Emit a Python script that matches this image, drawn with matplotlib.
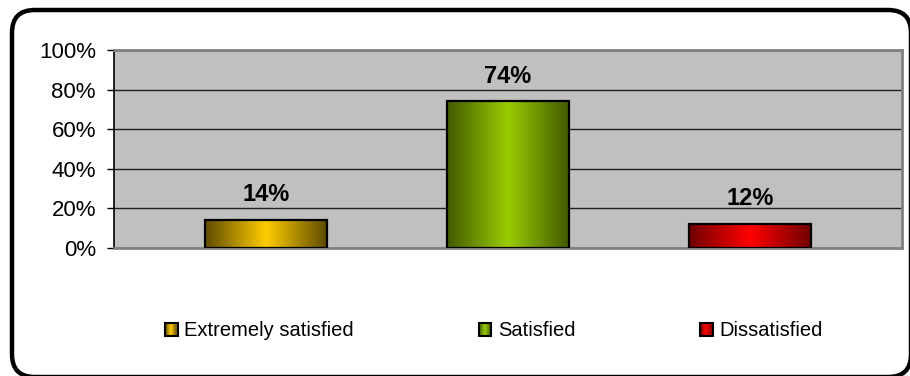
import matplotlib.pyplot as plt
import numpy as np
from matplotlib.colors import LinearSegmentedColormap
from matplotlib.patches import FancyBboxPatch, Rectangle
from matplotlib.legend_handler import HandlerBase
from matplotlib.ticker import PercentFormatter

plt.rcParams['font.family'] = ['Liberation Sans', 'DejaVu Sans']

categories = ["Extremely satisfied", "Satisfied", "Dissatisfied"]
percentages = [14, 74, 12]
bar_labels = ["14%", "74%", "12%"]

# edge / centre shades for the cylinder-like bar fill
edge_colors = ["#5e4b00", "#435a00", "#700000"]
mid_colors = ["#ffcc00", "#99cc00", "#ff0000"]


def make_cmap(edge, mid):
    return LinearSegmentedColormap.from_list("g", [edge, mid, edge])


class GradientHandler(HandlerBase):
    def __init__(self, cmap):
        super().__init__()
        self.cmap = cmap

    def create_artists(self, legend, orig_handle, xdescent, ydescent,
                       width, height, fontsize, trans):
        size = min(width, height) * 1.05
        x0 = -xdescent + (width - size) / 2
        y0 = -ydescent + (height - size) / 2
        n = 12
        artists = []
        for k in range(n):
            c = self.cmap((k + 0.5) / n)
            artists.append(Rectangle((x0 + k * size / n, y0), size / n, size,
                                     facecolor=c, edgecolor='none', transform=trans))
        artists.append(Rectangle((x0, y0), size, size, facecolor='none',
                                 edgecolor='black', linewidth=1.5, transform=trans))
        return artists


fig = plt.figure(figsize=(9.1, 3.76), dpi=100)
fig.set_facecolor('white')
ax = fig.add_axes([114 / 910, 1 - 248 / 376, 788 / 910, 198 / 376])
ax.set_facecolor('#c0c0c0')

x_pos = np.arange(len(categories))
width = 0.504
bars = ax.bar(x_pos, percentages, width=width, facecolor='none',
              edgecolor='black', linewidth=1.6, zorder=3)

cmaps = []
for b, e, m in zip(bars, edge_colors, mid_colors):
    cmap = make_cmap(e, m)
    cmaps.append(cmap)
    x0, h = b.get_x(), b.get_height()
    grad = np.linspace(0, 1, 256).reshape(1, -1)
    im = ax.imshow(grad, cmap=cmap, aspect='auto', extent=(x0, x0 + width, 0, h),
                   zorder=2, interpolation='bicubic')
    im.set_clip_path(b)

for a, v, lab in zip(x_pos, percentages, bar_labels):
    ax.annotate(lab, (a, v), xytext=(0, 10), textcoords='offset points',
                ha='center', va='bottom', fontsize=17, fontweight='bold')

ax.set_xlim(-0.628, 2.628)
ax.set_ylim(0, 100)
ax.set_yticks(np.arange(0, 101, 20))
ax.yaxis.set_major_formatter(PercentFormatter(decimals=0))
ax.tick_params(axis='y', labelsize=16, length=5, width=1, pad=8, color='black')
ax.set_xticks([])
ax.yaxis.grid(True, color='#202020', linewidth=1)
ax.set_axisbelow(True)

for side in ['top', 'right', 'bottom']:
    ax.spines[side].set_color('#808080')
    ax.spines[side].set_linewidth(2)
ax.spines['left'].set_color('black')
ax.spines['left'].set_linewidth(1.2)

handles = [Rectangle((0, 0), 1, 1) for _ in categories]
handler_map = {h: GradientHandler(c) for h, c in zip(handles, cmaps)}
fig.legend(handles, categories, handler_map=handler_map, loc='center',
           bbox_to_anchor=(494 / 910, 1 - 331 / 376), ncol=3, frameon=False,
           fontsize=14.5, handlelength=0.6, handleheight=0.6,
           handletextpad=0.35, columnspacing=6.2)

# rounded outer frame, running off the right and bottom edges
frame = FancyBboxPatch((12 / 910, 1 - 377 / 376), 899 / 910, 367 / 376,
                       boxstyle="round,pad=0,rounding_size=0.025",
                       mutation_aspect=910 / 376, transform=fig.transFigure,
                       facecolor='none', edgecolor='black', linewidth=3.2,
                       clip_on=False)
fig.patches.append(frame)

plt.savefig("out.png", dpi=100)
